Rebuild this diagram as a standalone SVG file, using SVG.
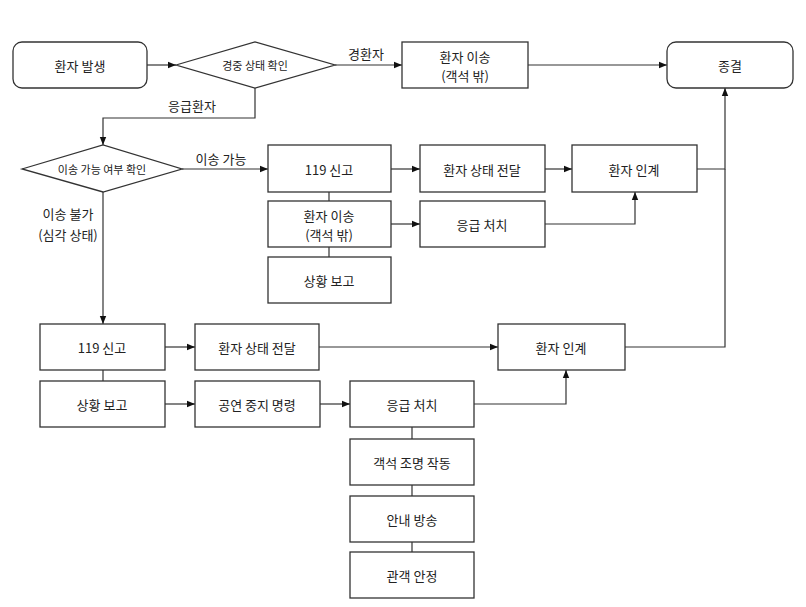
<svg xmlns="http://www.w3.org/2000/svg" width="806" height="607" viewBox="0 0 806 607">
<defs>
<marker id="ar" viewBox="0 0 10 10" refX="10" refY="5" markerWidth="7" markerHeight="7" orient="auto"><path d="M0,1 L10,5 L0,9 z" fill="#111"/></marker>
<style>
.b{fill:#fff;stroke:#333;stroke-width:1.3}
.t{font-family:"Noto Sans CJK KR","Noto Sans",sans-serif;font-size:13px;fill:#222;text-anchor:middle;dominant-baseline:central}
.s{font-size:11px}
.c{fill:none;stroke:#333;stroke-width:1.2}
.a{marker-end:url(#ar)}
</style>
</defs>
<rect width="806" height="607" fill="#fff"/>
<g id="connectors">
<path class="c a" d="M147,65 H176"/>
<path class="c a" d="M335,65 H402"/>
<path class="c a" d="M528,65 H667"/>
<path class="c a" d="M255,88 V118 H103 V145"/>
<path class="c a" d="M182,169 H268"/>
<path class="c" d="M329,192 V201 M329,247 V257"/>
<path class="c a" d="M391,169 H420"/>
<path class="c a" d="M545,169 H572"/>
<path class="c a" d="M391,224 H420"/>
<path class="c a" d="M545,224 H635 V192"/>
<path class="c a" d="M697,169 H725 V88"/>
<path class="c a" d="M103,192 V324"/>
<path class="c" d="M103,370 V381"/>
<path class="c a" d="M165,347 H195"/>
<path class="c a" d="M319,347 H498"/>
<path class="c a" d="M165,404 H195"/>
<path class="c a" d="M320,404 H350"/>
<path class="c a" d="M474,404 H566 V370"/>
<path class="c" d="M625,347 H725 V169"/>
<path class="c" d="M412,427 V439 M412,485 V496 M412,542 V552"/>
<text class="t" x="366" y="53">경환자</text>
<text class="t" x="192" y="105">응급환자</text>
<text class="t" x="221" y="158">이송 가능</text>
<text class="t" x="68" y="213">이송 불가</text>
<text class="t" x="68" y="234">(심각 상태)</text>
</g>
<g id="n1"><rect class="b" x="13" y="42" width="134" height="46" rx="9"/><text class="t" x="80" y="65">환자 발생</text></g>
<g id="d1"><path class="b" d="M176,65 L255,42 L335,65 L255,88 z"/><text class="t s" x="255" y="65">경중 상태 확인</text></g>
<g id="n2"><rect class="b" x="402" y="42" width="126" height="46"/><text class="t" x="465" y="56">환자 이송</text><text class="t" x="465" y="75">(객석 밖)</text></g>
<g id="end"><rect class="b" x="667" y="42" width="126" height="46" rx="9"/><text class="t" x="730" y="65">종결</text></g>
<g id="d2"><path class="b" d="M22,169 L103,145 L182,169 L103,192 z"/><text class="t s" x="102" y="169">이송 가능 여부 확인</text></g>
<g id="a1"><rect class="b" x="268" y="145" width="123" height="47"/><text class="t" x="329" y="169">119 신고</text></g>
<g id="a2"><rect class="b" x="268" y="201" width="123" height="46"/><text class="t" x="329" y="215">환자 이송</text><text class="t" x="329" y="234">(객석 밖)</text></g>
<g id="a3"><rect class="b" x="268" y="257" width="123" height="46"/><text class="t" x="329" y="280">상황 보고</text></g>
<g id="a4"><rect class="b" x="420" y="145" width="125" height="47"/><text class="t" x="482" y="169">환자 상태 전달</text></g>
<g id="a5"><rect class="b" x="572" y="145" width="125" height="47"/><text class="t" x="634" y="169">환자 인계</text></g>
<g id="a6"><rect class="b" x="420" y="201" width="125" height="46"/><text class="t" x="482" y="224">응급 처치</text></g>
<g id="b1"><rect class="b" x="40" y="324" width="125" height="46"/><text class="t" x="102" y="347">119 신고</text></g>
<g id="b2"><rect class="b" x="40" y="381" width="125" height="46"/><text class="t" x="102" y="404">상황 보고</text></g>
<g id="b3"><rect class="b" x="195" y="324" width="124" height="46"/><text class="t" x="257" y="347">환자 상태 전달</text></g>
<g id="b4"><rect class="b" x="195" y="381" width="125" height="46"/><text class="t" x="257" y="404">공연 중지 명령</text></g>
<g id="b5"><rect class="b" x="498" y="324" width="127" height="46"/><text class="t" x="561" y="347">환자 인계</text></g>
<g id="b6"><rect class="b" x="350" y="381" width="124" height="46"/><text class="t" x="412" y="404">응급 처치</text></g>
<g id="b7"><rect class="b" x="350" y="439" width="124" height="46"/><text class="t" x="412" y="462">객석 조명 작동</text></g>
<g id="b8"><rect class="b" x="350" y="496" width="124" height="46"/><text class="t" x="412" y="519">안내 방송</text></g>
<g id="b9"><rect class="b" x="350" y="552" width="124" height="46"/><text class="t" x="412" y="575">관객 안정</text></g>
</svg>
